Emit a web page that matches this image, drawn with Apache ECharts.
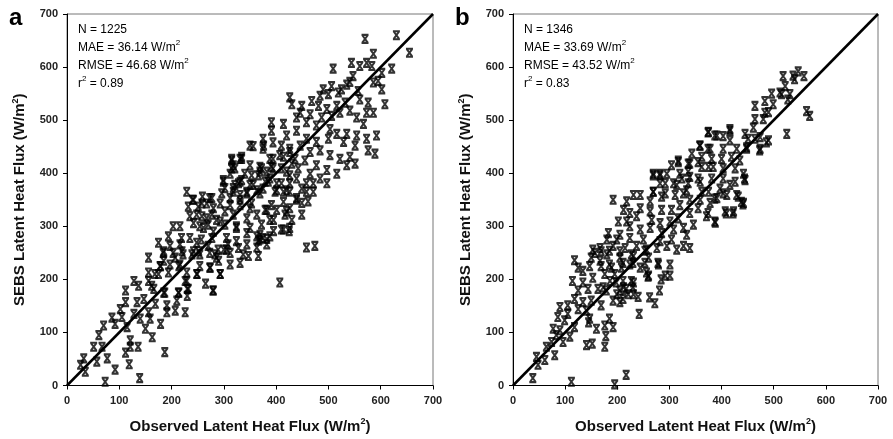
<!DOCTYPE html>
<html>
<head>
<meta charset="utf-8">
<script src="https://cdn.jsdelivr.net/npm/echarts@6/dist/echarts.min.js"></script>
<style>
html,body{margin:0;padding:0;background:#fff;}
#c{width:893px;height:439px;}
</style>
</head>
<body>
<div id="c"></div>
<script>
// Axis ticks
var tickValues = [0, 100, 200, 300, 400, 500, 600, 700];
var panelLabels = ['a', 'b'];
var statsA = ['N = 1225', 'MAE = 36.14 W/m', 'RMSE = 46.68 W/m', 'r', ' = 0.89'];
var statsB = ['N = 1346', 'MAE = 33.69 W/m', 'RMSE = 43.52 W/m', 'r', ' = 0.83'];
var oneToOne = [[0, 0], [700, 700]];

// Panel a: observed vs SEBS latent heat flux (W/m2)
var pointsA = [
[73,7],[139,14],[92,30],[119,40],[35,26],[26,39],[32,51],[57,45],[77,51],[187,63],[112,62],[51,73],[67,73],[121,73],[136,73],[61,95],[70,113],[92,116],[121,85],[163,91],[150,107],[179,116],[86,128],[105,129],[115,110],[128,135],[140,126],[159,126],[102,144],[112,157],[134,157],[147,163],[156,138],[169,154],[191,138],[207,141],[226,138],[191,151],[210,160],[112,179],[128,197],[137,188],[156,197],[166,182],[185,175],[214,175],[230,182],[230,169],[279,179],[265,192],[249,210],[226,197],[156,213],[175,210],[194,213],[156,241],[185,235],[207,241],[179,225],[214,225],[220,253],[239,247],[252,253],[274,222],[293,210],[290,235],[300,256],[185,253],
[350,452],[376,452],[315,424],[334,431],[315,409],[350,415],[369,412],[382,403],[229,365],[240,350],[259,356],[277,353],[299,387],[302,372],[318,372],[328,381],[344,362],[363,368],[385,384],[414,365],[426,381],[458,365],[471,381],[439,350],[426,334],[449,322],[417,322],[401,331],[395,312],[382,331],[350,334],[331,350],[312,340],[293,343],[267,343],[232,337],[251,337],[235,319],[258,319],[277,322],[293,309],[324,300],[350,297],[369,284],[375,278],[414,294],[426,297],[458,260],[474,263],[407,194],[203,300],[216,300],[219,278],[254,300],[270,303],[194,281],[175,269],[197,263],[216,266],[235,278],[257,275],[277,278],[308,266],[328,259],[347,244],[369,275],[184,250],[203,250],[222,247],[242,253],[273,250],[305,256],[286,241],[312,228],[331,231],[178,225],[197,228],[216,228],[254,225],[273,222],[168,210],[229,213],[248,210],[293,210],[229,197],[213,175],[232,182],[280,179],[187,175],[162,188],
[509,597],[544,608],[560,602],[573,608],[583,602],[602,589],[547,583],[535,567],[525,558],[506,564],[586,571],[595,574],[602,558],[608,530],[557,555],[490,558],[500,549],[519,552],[426,543],[430,530],[449,527],[468,536],[484,546],[481,527],[497,521],[516,527],[532,533],[560,539],[576,533],[573,514],[586,514],[567,493],[554,505],[541,518],[522,514],[506,508],[487,505],[465,511],[446,514],[439,505],[458,496],[477,490],[503,483],[516,474],[535,474],[554,471],[573,465],[592,471],[391,496],[391,480],[414,493],[420,471],[439,480],[458,465],[477,459],[500,465],[529,459],[551,452],[576,443],[589,437],[375,465],[356,451],[375,446],[394,458],[410,452],[426,446],[446,452],[465,440],[484,443],[503,434],[522,427],[541,431],[535,415],[551,418],[516,399],[497,406],[477,415],[455,424],[436,427],[414,431],[394,427],[315,427],[331,427],[372,409],[394,409],[420,403],[442,409],[465,399],[484,390],[497,381],[458,381],[439,390],[410,381],[388,390],[366,396],[340,399],[321,409],[331,384],[350,378],[375,371],[401,368],[426,365],[449,371],[471,365],[318,365],
[570,653],[630,660],[655,627],[586,625],[621,597],[541,572],[425,291],[395,291],[366,273],[382,276],[449,344],[461,347],
[334,427],[318,415],[388,427],[407,434],[426,440],[391,412],[410,409],[430,418],[426,396],[369,403],[353,396],[312,399],[334,387],[299,384],[321,378],[356,378],[379,384],[401,381],[344,365],[331,359],[369,362],[398,365],[420,368],[439,353],[414,346],[391,340],[420,328],[430,312],[410,294],[388,312],[379,331],[353,343],[331,340],[312,353],[296,362],[273,353],[258,343],[242,350],[280,334],[302,328],[318,322],[344,315],[363,322],[372,303],[388,281],[363,281],[344,287],[324,297],[302,303],[286,312],[267,315],[248,322],[242,306],[261,297],[280,290],[305,278],[324,272],[344,266],[363,260],[382,266],[366,244],[337,247],[312,250],[289,256],[270,263],[248,269],[283,247],[254,247]
];

// Panel b: observed vs SEBS latent heat flux (W/m2)
var pointsB = [
[38,14],[112,7],[195,2],[217,20],[45,54],[48,39],[61,48],[64,73],[80,57],[74,82],[83,95],[96,82],[90,104],[77,107],[109,92],[118,110],[99,123],[86,129],[105,135],[90,148],[125,144],[134,157],[105,151],[118,163],[141,141],[150,160],[169,151],[147,126],[160,107],[176,113],[192,110],[185,126],[178,93],[176,73],[141,76],[152,79],[114,197],[125,179],[134,194],[144,182],[153,203],[163,182],[118,236],[125,222],[134,216],[147,225],[150,241],[169,225],[185,228],[176,210],[195,210],[198,194],[211,197],[205,179],[179,179],[192,160],[211,163],[217,182],[227,197],[230,185],[240,167],[242,135],[205,157],[259,205],[262,166],[272,155],[281,179],[284,200],[211,231],[230,231],[253,231],[256,213],[278,231],[153,256],[169,253],[185,254],[205,253],[227,247],[253,254],[145,119],
[192,350],[218,347],[231,359],[244,359],[269,365],[269,399],[282,399],[292,381],[308,381],[304,415],[317,421],[336,418],[355,421],[375,412],[359,384],[339,393],[324,390],[333,368],[311,359],[285,356],[263,347],[244,334],[224,325],[212,331],[202,309],[218,309],[237,319],[263,328],[285,331],[304,331],[320,340],[339,350],[359,350],[375,365],[397,371],[416,378],[432,356],[442,344],[410,359],[391,353],[378,344],[355,334],[339,325],[317,315],[301,309],[282,306],[266,312],[407,328],[423,328],[387,309],[371,319],[346,303],[327,297],[308,294],[285,287],[263,297],[244,294],[224,300],[205,284],[183,287],[180,275],[199,275],[224,278],[250,275],[282,272],[304,275],[333,284],[327,263],[339,259],[314,256],[295,263],[276,259],[256,256],[237,263],[215,259],[192,263],[167,259],[157,250],[180,247],[205,241],[231,244],[260,241],[279,228],[301,228],[292,207],[301,207],[260,207],[231,172],[231,194],[208,222],[189,222],[167,235],[224,228],[244,222],[186,197],[212,185],[199,172],[173,185],[221,172],
[518,583],[522,564],[512,552],[496,550],[525,474],[483,536],[464,527],[499,530],[490,515],[464,502],[480,502],[461,486],[416,483],[375,478],[391,471],[403,470],[474,468],[490,462],[474,446],[445,474],[451,465],[416,462],[429,446],[448,446],[359,452],[378,446],[403,446],[343,437],[362,431],[381,427],[400,427],[419,431],[435,424],[426,409],[442,399],[445,387],[403,409],[384,412],[362,412],[339,418],[317,424],[269,396],[282,396],[295,399],[320,399],[336,403],[355,390],[381,390],[403,390],[426,384],[314,378],[336,381],[282,381],[269,365],[292,362],[327,362],[362,365],[403,362],[429,359],
[547,592],[558,583],[537,584],[540,577],[515,549],[531,549],[527,539],[563,517],[569,508],[486,458],[473,443],[448,449],[464,465],[374,477],[387,471],[416,480],[358,452],[374,446],[444,390],[438,346],[422,324],[409,324],[387,352],[483,514],[388,307],[441,341],[374,325]
];

var FONT = '"Liberation Sans", Arial, sans-serif';
var starSymbol = 'path://M0,0 L8,0 M0,9 L8,9 M1,0.5 L7,8.5 M7,0.5 L1,8.5';

function axisX(gridIndex) {
  return {
    type: 'value', gridIndex: gridIndex, min: 0, max: 700, interval: 100,
    name: 'Observed Latent Heat Flux (W/m{s|2})',
    nameLocation: 'middle', nameGap: 32,
    nameTextStyle: {fontFamily: FONT, fontSize: 15, fontWeight: 'bold', color: '#111',
      rich: {s: {fontFamily: FONT, fontSize: 9, fontWeight: 'bold', color: '#111', verticalAlign: 'top', lineHeight: 18}}},
    axisLine: {show: true, onZero: false, lineStyle: {color: '#000', width: 1}},
    axisTick: {show: true, inside: false, length: 4, lineStyle: {color: '#000'}},
    axisLabel: {fontFamily: FONT, fontSize: 11, fontWeight: 'bold', color: '#222', margin: 10,
      formatter: function (v) { return tickValues.indexOf(v) >= 0 ? String(v) : ''; }},
    splitLine: {show: false}
  };
}
function axisY(gridIndex) {
  return {
    type: 'value', gridIndex: gridIndex, min: 0, max: 700, interval: 100,
    name: 'SEBS Latent Heat Flux (W/m{s|2})',
    nameLocation: 'middle', nameGap: 38, nameRotate: 90,
    nameTextStyle: {fontFamily: FONT, fontSize: 15, fontWeight: 'bold', color: '#111',
      rich: {s: {fontFamily: FONT, fontSize: 9, fontWeight: 'bold', color: '#111', verticalAlign: 'top', lineHeight: 18}}},
    axisLine: {show: true, onZero: false, lineStyle: {color: '#000', width: 1}},
    axisTick: {show: true, inside: false, length: 4, lineStyle: {color: '#000'}},
    axisLabel: {fontFamily: FONT, fontSize: 11, fontWeight: 'bold', color: '#222', margin: 9,
      formatter: function (v) { return tickValues.indexOf(v) >= 0 ? String(v) : ''; }},
    splitLine: {show: false}
  };
}
function statsText(lines, left) {
  var s = {fontFamily: FONT, fontSize: 12, color: '#111', lineHeight: 18};
  var sup = {fontFamily: FONT, fontSize: 8, color: '#111', lineHeight: 18, verticalAlign: 'top'};
  return {
    type: 'text', left: left, top: 24, z: 100,
    style: {
      text: '{t|' + lines[0] + '}\n{t|' + lines[1] + '}{s|2}\n{t|' + lines[2] + '}{s|2}\n{t|' + lines[3] + '}{s|2}{t|' + lines[4] + '}',
      rich: {t: s, s: sup}
    }
  };
}
function scatterSeries(idx, data) {
  return {
    type: 'scatter', xAxisIndex: idx, yAxisIndex: idx, data: data,
    symbol: starSymbol, symbolSize: [7, 8],
    itemStyle: {color: 'rgba(0,0,0,0)', borderColor: '#000', borderWidth: 2},
    silent: true, animation: false
  };
}
function lineSeries(idx) {
  return {
    type: 'line', xAxisIndex: idx, yAxisIndex: idx, data: oneToOne,
    symbol: 'none', lineStyle: {color: '#000', width: 2.5}, z: 5,
    silent: true, animation: false
  };
}

var chart = echarts.init(document.getElementById('c'), null, {renderer: 'canvas'});
chart.setOption({
  animation: false,
  backgroundColor: '#fff',
  grid: [
    {left: 67, top: 14, width: 366, height: 375, show: true, borderColor: '#777', borderWidth: 1, backgroundColor: 'transparent'},
    {left: 513, top: 14, width: 365, height: 375, show: true, borderColor: '#777', borderWidth: 1, backgroundColor: 'transparent'}
  ],
  xAxis: [axisX(0), axisX(1)],
  yAxis: [axisY(0), axisY(1)],
  graphic: [
    {type: 'text', left: 9, top: 6, style: {text: panelLabels[0], font: 'bold 24px ' + FONT, fill: '#000'}},
    {type: 'text', left: 455, top: 6, style: {text: panelLabels[1], font: 'bold 24px ' + FONT, fill: '#000'}},
    statsText(statsA, 78),
    statsText(statsB, 524)
  ],
  series: [scatterSeries(0, pointsA), lineSeries(0), scatterSeries(1, pointsB), lineSeries(1)]
});
</script>
</body>
</html>
